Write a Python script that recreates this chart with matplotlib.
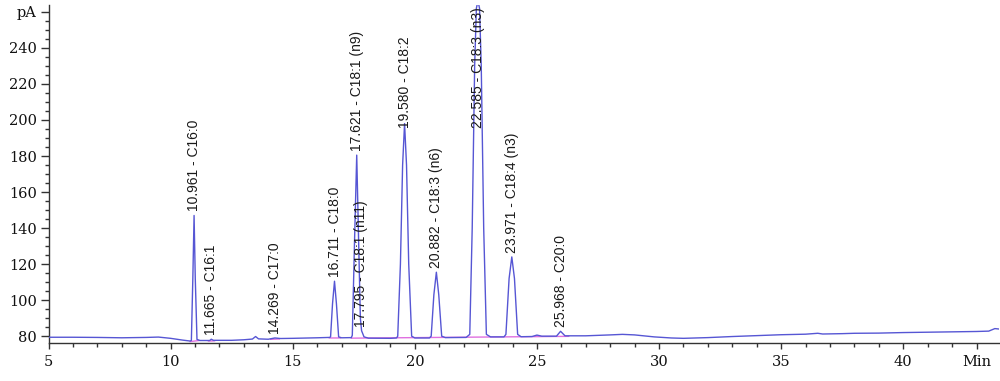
import matplotlib.pyplot as plt
import numpy as np

# trace (time in min, signal in pA)
trace_t = [5.0, 6.0, 7.0, 8.0, 9.0, 9.5, 10.0, 10.5, 10.8,
           10.85, 10.91, 10.961, 11.01, 11.08, 11.2,
           11.6, 11.665, 11.75, 12.5, 13.0, 13.35, 13.48, 13.6, 14.0, 14.269, 14.5,
           15.0, 16.0, 16.5,
           16.55, 16.63, 16.711, 16.79, 16.88, 17.0, 17.4,
           17.44, 17.53, 17.621, 17.70, 17.77, 17.82, 17.92, 18.1, 19.0, 19.25,
           19.3, 19.41, 19.5, 19.58, 19.66, 19.75, 19.87, 20.0, 20.6,
           20.67, 20.78, 20.882, 20.98, 21.1, 21.25, 22.1,
           22.25, 22.35, 22.45, 22.52, 22.585, 22.65, 22.72, 22.82, 22.93, 23.1, 23.65,
           23.73, 23.86, 23.971, 24.08, 24.21, 24.35, 24.8, 25.0, 25.2, 25.8,
           25.968, 26.15, 27.0, 28.0, 28.5, 29.0, 29.8, 30.5, 31.0, 32.0, 33.0,
           34.0, 35.0, 36.0, 36.5, 36.7, 37.5, 38.0, 39.0, 40.0, 41.0, 42.0,
           43.0, 43.5, 43.75, 43.9]
trace_y = [79.4, 79.4, 79.3, 79.1, 79.3, 79.5, 78.8, 77.8, 77.3,
           77.6, 112.0, 147.0, 112.0, 78.2, 77.6,
           77.6, 78.3, 77.7, 77.7, 78.0, 78.4, 79.8, 78.5, 78.3, 79.0, 78.7,
           78.8, 79.1, 79.3,
           79.6, 98.0, 110.5, 98.0, 79.6, 79.1, 79.2,
           80.5, 132.0, 180.5, 132.0, 90.0, 83.0, 79.6, 78.9, 78.8, 79.0,
           80.0, 120.0, 175.0, 198.0, 175.0, 120.0, 80.0, 79.0, 79.0,
           80.0, 103.0, 115.5, 103.0, 80.0, 79.2, 79.3,
           81.0, 140.0, 230.0, 262.0, 266.0, 262.0, 230.0, 140.0, 81.0, 79.6, 79.6,
           81.0, 112.0, 124.0, 112.0, 81.0, 79.7, 79.8, 80.6, 80.0, 80.0,
           82.7, 80.2, 80.2, 80.7, 81.0, 80.7, 79.6, 79.0, 78.8, 79.2, 79.8,
           80.3, 80.8, 81.1, 81.6, 81.2, 81.4, 81.6, 81.7, 82.0, 82.2, 82.4,
           82.6, 82.8, 84.2, 84.0]

# identified peaks
peak_times = [10.961, 11.665, 14.269, 16.711, 17.621, 17.795,
              19.580, 20.882, 22.585, 23.971, 25.968]
peak_names = ['C16:0', 'C16:1', 'C17:0', 'C18:0', 'C18:1 (n9)', 'C18:1 (n11)',
              'C18:2', 'C18:3 (n6)', 'C18:3 (n3)', 'C18:4 (n3)', 'C20:0']
peak_heights = [147.0, 78.3, 79.0, 110.5, 180.5, 83.0,
                198.0, 115.5, 266.0, 124.0, 82.7]

# integration baselines (start, end)
base_segments = [(10.8, 11.15), (11.55, 11.8), (14.1, 14.45), (16.5, 16.95), (17.4, 26.3)]

xticks = [5, 10, 15, 20, 25, 30, 35, 40, 43]
xlabels = ['5', '10', '15', '20', '25', '30', '35', '40', 'Min']
yticks = [80, 100, 120, 140, 160, 180, 200, 220, 240, 260]
ylabels = ['80', '100', '120', '140', '160', '180', '200', '220', '240', 'pA']


def main():
    fig = plt.figure(figsize=(10, 3.81), dpi=100)
    ax = fig.add_axes([0.0485, 0.0997, 0.95, 0.888])

    t = np.array(trace_t)
    y = np.array(trace_y)

    for a, b in base_segments:
        ya = np.interp(a, t, y)
        yb = np.interp(b, t, y)
        ax.plot([a, b], [ya - 0.3, yb - 0.3], color='#e070e0', lw=1.0, zorder=2)

    ax.plot(t, y, color='#5656d4', lw=1.0, zorder=3)

    for pt, name, h in zip(peak_times, peak_names, peak_heights):
        ax.annotate(f'{pt:.3f} - {name}', xy=(pt, min(h, 193.0)),
                    xytext=(0, 3), textcoords='offset points',
                    rotation=90, ha='center', va='bottom',
                    fontsize=10, family='Liberation Sans', color='#1a1a1a')

    ax.set_xlim(5, 43.9)
    ax.set_ylim(76.2, 264)

    ax.spines['top'].set_visible(False)
    ax.spines['right'].set_visible(False)
    for s in ['left', 'bottom']:
        ax.spines[s].set_color('#333333')
        ax.spines[s].set_linewidth(1.0)

    ax.set_xticks(xticks)
    ax.set_xticklabels(xlabels)
    ax.set_xticks(np.arange(5, 44, 1), minor=True)
    ax.set_yticks(yticks)
    ax.set_yticklabels(ylabels)
    ax.set_yticks(np.arange(80, 261, 5), minor=True)

    ax.tick_params(axis='x', which='major', length=4.5, width=1.0, pad=4, color='#333333')
    ax.tick_params(axis='x', which='minor', length=2.8, width=1.0, color='#333333')
    ax.tick_params(axis='y', which='major', length=5.5, width=1.0, pad=3, color='#333333')
    ax.tick_params(axis='y', which='minor', length=3.2, width=1.0, color='#333333')
    for lab in ax.get_xticklabels() + ax.get_yticklabels():
        lab.set_family('DejaVu Serif')
        lab.set_fontsize(10.5)
        lab.set_color('#111111')

    fig.savefig('out.png', dpi=100)


if __name__ == '__main__':
    main()
